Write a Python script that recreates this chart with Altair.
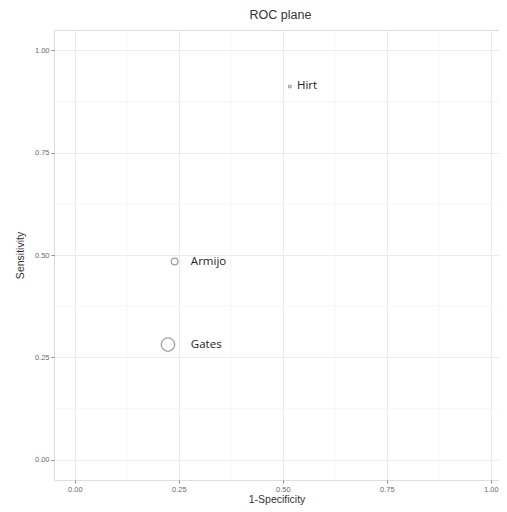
import altair as alt
import pandas as pd

# Data
studies = ["Hirt", "Armijo", "Gates"]
fpr = [0.517, 0.240, 0.224]      # 1-Specificity
tpr = [0.912, 0.484, 0.281]      # Sensitivity
weight = [4, 25, 100]            # relative study weight (point size)
label_nudge = [0.017, 0.039, 0.055]

major_ticks = [0.0, 0.25, 0.5, 0.75, 1.0]
minor_ticks = [0.125, 0.375, 0.625, 0.875]

df = pd.DataFrame({
    "study": studies,
    "fpr": fpr,
    "tpr": tpr,
    "w": weight,
    "lx": [a + b for a, b in zip(fpr, label_nudge)],
})
minor_df = pd.DataFrame({"v": minor_ticks})

xscale = alt.Scale(domain=[-0.05, 1.0197], nice=False, zero=False)
yscale = alt.Scale(domain=[-0.05, 1.05], nice=False, zero=False)

axis_common = dict(
    values=major_ticks, format=".2f", labelFontSize=7.5, labelColor="#6a6a6a",
    labelFont="Liberation Sans", tickColor="#6a6a6a", tickSize=3, tickWidth=0.8,
    domain=False, grid=True, gridColor="#ebebeb", gridWidth=1,
    titleFont="Liberation Sans", titleFontSize=10.5, titleFontWeight="normal",
    titleColor="#333333", labelPadding=2,
)
xaxis = alt.Axis(title="1-Specificity", titlePadding=2, **axis_common)
yaxis = alt.Axis(title="Sensitivity", titlePadding=9, **axis_common)

vgrid = alt.Chart(minor_df).mark_rule(color="#f4f4f4", strokeWidth=0.8).encode(
    x=alt.X("v:Q", scale=xscale, axis=xaxis)
)
hgrid = alt.Chart(minor_df).mark_rule(color="#f4f4f4", strokeWidth=0.8).encode(
    y=alt.Y("v:Q", scale=yscale, axis=yaxis)
)

points = alt.Chart(df).mark_point(shape="circle", filled=False, color="#a0a0a0",
                                  strokeWidth=1.3, opacity=1).encode(
    x=alt.X("fpr:Q", scale=xscale, axis=xaxis),
    y=alt.Y("tpr:Q", scale=yscale, axis=yaxis),
    size=alt.Size("w:Q", scale=alt.Scale(domain=[0, 100], range=[0, 180]), legend=None),
)

labels = alt.Chart(df).mark_text(align="left", baseline="middle", fontSize=11.5,
                                 font="Open Sans", color="#222222").encode(
    x=alt.X("lx:Q", scale=xscale, axis=xaxis),
    y=alt.Y("tpr:Q", scale=yscale, axis=yaxis),
    text="study:N",
)

chart = alt.layer(vgrid, hgrid, points, labels).properties(
    width=445, height=450,
    title=alt.TitleParams("ROC plane", fontSize=12.5, font="Liberation Sans",
                          fontWeight="normal", color="#333333", anchor="middle",
                          dx=4, offset=8),
    autosize=alt.AutoSizeParams(type="none"),
    padding={"left": 46, "top": 22, "right": 0, "bottom": 32},
).configure_view(stroke="#dddddd", strokeWidth=1)

chart.save("out.html", embed_options={"renderer": "svg", "actions": False})
